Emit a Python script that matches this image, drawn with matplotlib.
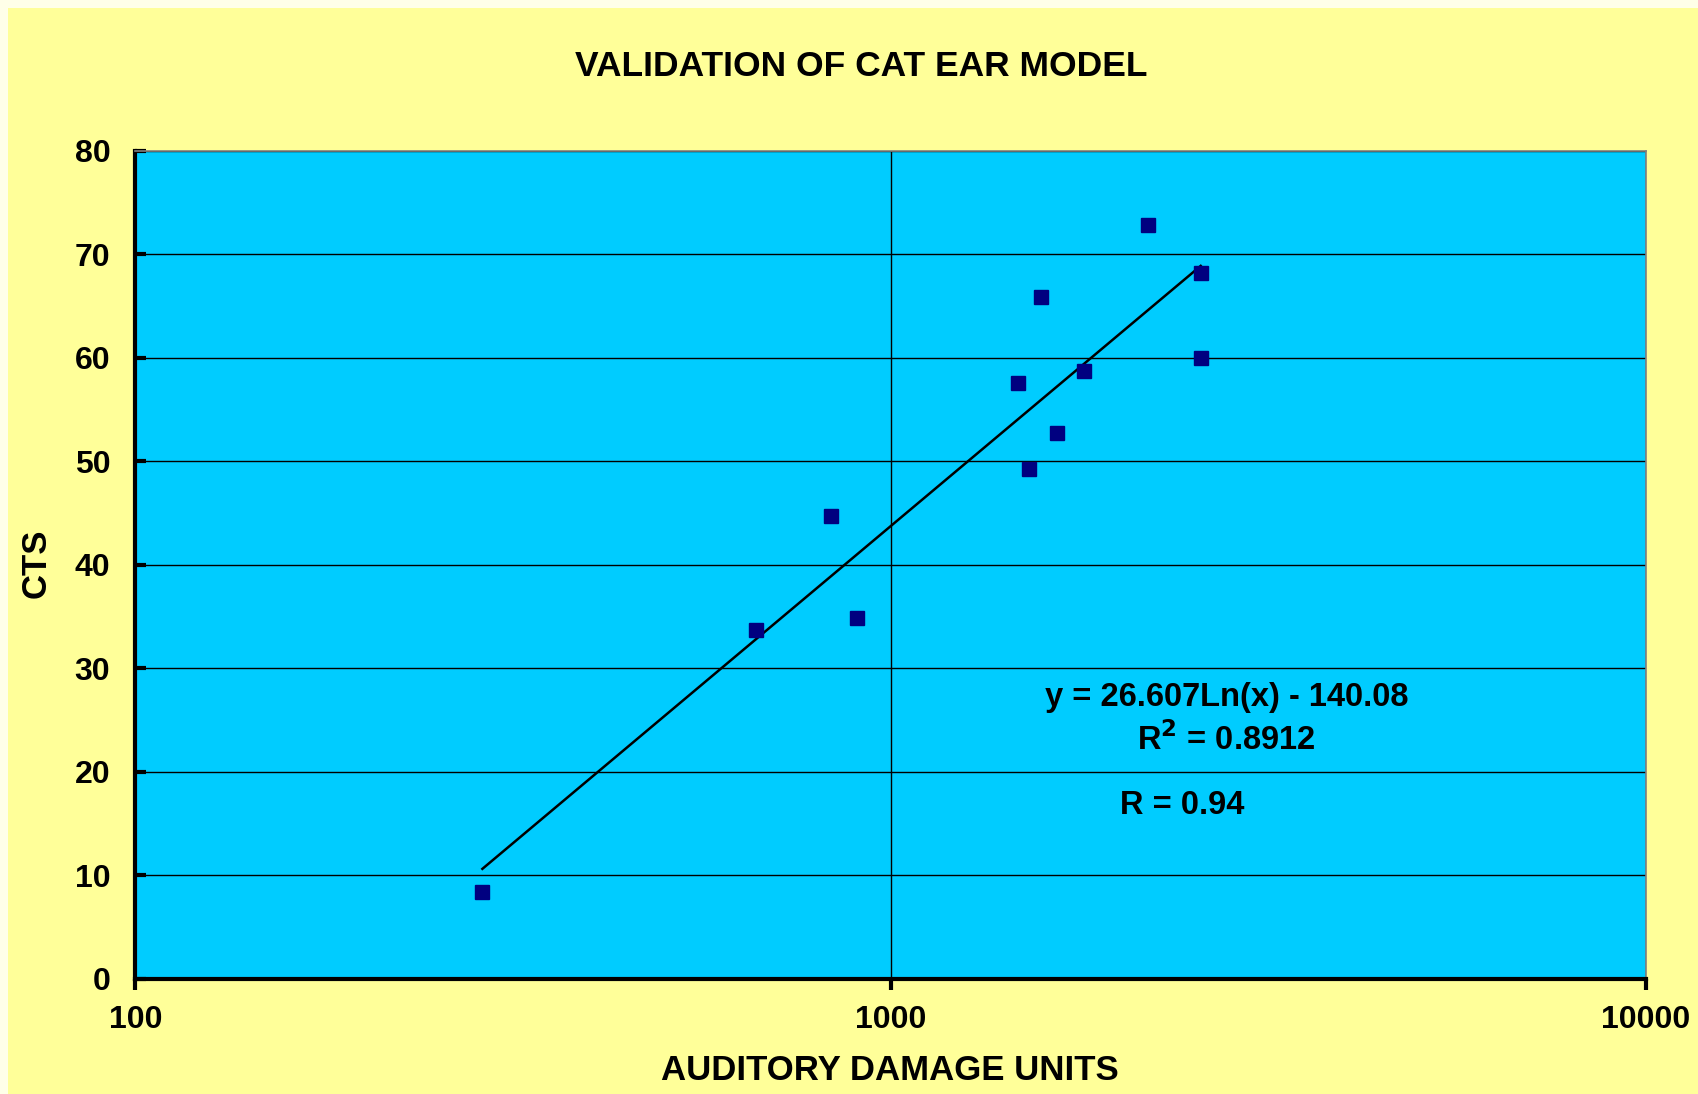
import numpy as np
import matplotlib
matplotlib.use("Agg")
import matplotlib.pyplot as plt
from matplotlib.patches import Rectangle
from matplotlib.ticker import FixedLocator, FixedFormatter, NullLocator

# Auditory damage units vs. CTS measurements
adu = [288, 664, 834, 902, 1472, 1526, 1583, 1658, 1800, 2188, 2573, 2573]
cts = [8.4, 33.7, 44.7, 34.8, 57.5, 49.2, 65.9, 52.7, 58.7, 72.8, 68.2, 60.0]

# Logarithmic fit y = a*ln(x) + b
fit_a = 26.607
fit_b = -140.08
r_squared = 0.8912
r_value = 0.94

x_ticks = [100, 1000, 10000]
x_tick_labels = ["100", "1000", "10000"]
y_ticks = [0, 10, 20, 30, 40, 50, 60, 70, 80]

plt.rcParams["font.family"] = ["Liberation Sans", "DejaVu Sans"]

W, H = 1699, 1094
fig = plt.figure(figsize=(W / 100, H / 100), dpi=100)
fig.patch.set_facecolor("#FFFFE8")
fig.patches.append(Rectangle((8 / W, 0), 1, 1 - 8 / H, transform=fig.transFigure,
                             facecolor="#FFFF99", edgecolor="none", zorder=-10))

ax = fig.add_axes([135.4 / W, 1 - 978.5 / H, (1646 - 135.4) / W, (978.5 - 150.6) / H])
ax.set_zorder(1)
ax.set_facecolor("#00CCFF")
ax.set_xscale("log")
ax.set_xlim(100, 10000)
ax.set_ylim(0, 80)

ax.xaxis.set_major_locator(FixedLocator(x_ticks))
ax.xaxis.set_major_formatter(FixedFormatter(x_tick_labels))
ax.xaxis.set_minor_locator(NullLocator())
ax.set_yticks(y_ticks)

ax.grid(True, which="major", color="black", linewidth=1.0)
ax.set_axisbelow(True)

for side in ("left", "bottom"):
    ax.spines[side].set_linewidth(3)
    ax.spines[side].set_color("black")
for side in ("top", "right"):
    ax.spines[side].set_linewidth(1.2)
    ax.spines[side].set_color("#808080")

ax.tick_params(axis="both", length=8, width=3, color="black", labelsize=23)
ax.tick_params(axis="x", direction="out", pad=11)
ax.tick_params(axis="y", direction="in", pad=18)
for lab in ax.get_xticklabels() + ax.get_yticklabels():
    lab.set_fontweight("bold")

# Trend line from the fitted equation
xs = np.linspace(min(adu), max(adu), 200)
ax.plot(xs, fit_a * np.log(xs) + fit_b, color="black", linewidth=1.8, zorder=3)

ax.plot(adu, cts, linestyle="none", marker="s", markersize=10.5,
        markerfacecolor="#000080", markeredgecolor="#000080", zorder=4)

ax.text(0.7224, 0.340, f"y = {fit_a:.3f}Ln(x) - {abs(fit_b):.2f}", transform=ax.transAxes,
        ha="center", va="center", fontsize=23.5, fontweight="bold")
ax.text(0.7224, 0.288, f"R$^{{\\mathbf{{2}}}}$ = {r_squared:.4f}", transform=ax.transAxes,
        ha="center", va="center", fontsize=23.5, fontweight="bold")
ax.text(0.693, 0.209, f"R = {r_value:.2f}", transform=ax.transAxes,
        ha="center", va="center", fontsize=23.5, fontweight="bold")

fig.text(861 / W, 1 - 67 / H, "VALIDATION OF CAT EAR MODEL", ha="center", va="center",
         fontsize=25.5, fontweight="bold")
fig.text(890 / W, 1 - 1071 / H, "AUDITORY DAMAGE UNITS", ha="center", va="center",
         fontsize=25, fontweight="bold")
fig.text(36 / W, 1 - 563 / H, "CTS", ha="center", va="center", rotation=90,
         fontsize=25, fontweight="bold")

fig.savefig("out.png", dpi=100, facecolor=fig.get_facecolor())
